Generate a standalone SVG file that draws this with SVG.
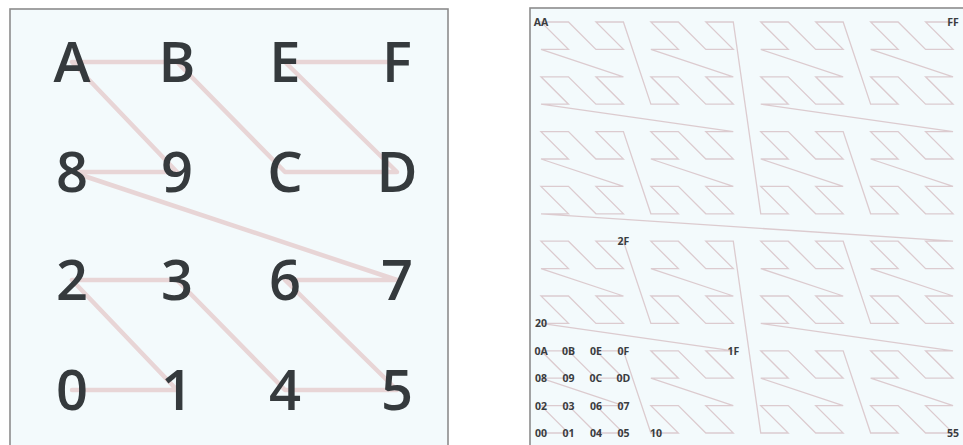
<svg xmlns="http://www.w3.org/2000/svg" xmlns:xlink="http://www.w3.org/1999/xlink" width="963" height="445" viewBox="0 0 963 445">
<style>
.panel{fill:#f3fafc;stroke:#8c8c8c;stroke-width:1.6}
.big{font-family:"Open Sans","Liberation Sans",sans-serif;font-size:56px;font-weight:600;fill:#353a3d;text-anchor:middle}
.sm{font-family:"Open Sans","Liberation Sans",sans-serif;font-size:10.5px;font-weight:700;fill:#3a3d40;text-anchor:middle}
.bigline{fill:none;stroke:#e8d5d6;stroke-width:4.5;stroke-linejoin:round;stroke-linecap:round}
.smline{fill:none;stroke:#dccbcf;stroke-width:1.3;stroke-linejoin:miter;vector-effect:non-scaling-stroke}
</style>
<rect width="963" height="445" fill="#ffffff"/>
<rect id="panel-left" class="panel" x="10" y="9" width="438" height="440"/>
<rect id="panel-right" class="panel" x="530" y="8" width="440" height="441"/>

<g id="connectors">
<polyline class="bigline" points="72,390 177,390 72,280 177,280 285,390 397,390 285,280 397,280 72,172 177,172 72,62 177,62 285,172 397,172 285,62 397,62"/>
<g transform="translate(541,433) scale(27.47,-27.4)">
<polyline class="smline" points="0,0 1,0 0,1 1,1 2,0 3,0 2,1 3,1 0,2 1,2 0,3 1,3 2,2 3,2 2,3 3,3 4,0 5,0 4,1 5,1 6,0 7,0 6,1 7,1 4,2 5,2 4,3 5,3 6,2 7,2 6,3 7,3 0,4 1,4 0,5 1,5 2,4 3,4 2,5 3,5 0,6 1,6 0,7 1,7 2,6 3,6 2,7 3,7 4,4 5,4 4,5 5,5 6,4 7,4 6,5 7,5 4,6 5,6 4,7 5,7 6,6 7,6 6,7 7,7 8,0 9,0 8,1 9,1 10,0 11,0 10,1 11,1 8,2 9,2 8,3 9,3 10,2 11,2 10,3 11,3 12,0 13,0 12,1 13,1 14,0 15,0 14,1 15,1 12,2 13,2 12,3 13,3 14,2 15,2 14,3 15,3 8,4 9,4 8,5 9,5 10,4 11,4 10,5 11,5 8,6 9,6 8,7 9,7 10,6 11,6 10,7 11,7 12,4 13,4 12,5 13,5 14,4 15,4 14,5 15,5 12,6 13,6 12,7 13,7 14,6 15,6 14,7 15,7 0,8 1,8 0,9 1,9 2,8 3,8 2,9 3,9 0,10 1,10 0,11 1,11 2,10 3,10 2,11 3,11 4,8 5,8 4,9 5,9 6,8 7,8 6,9 7,9 4,10 5,10 4,11 5,11 6,10 7,10 6,11 7,11 0,12 1,12 0,13 1,13 2,12 3,12 2,13 3,13 0,14 1,14 0,15 1,15 2,14 3,14 2,15 3,15 4,12 5,12 4,13 5,13 6,12 7,12 6,13 7,13 4,14 5,14 4,15 5,15 6,14 7,14 6,15 7,15 8,8 9,8 8,9 9,9 10,8 11,8 10,9 11,9 8,10 9,10 8,11 9,11 10,10 11,10 10,11 11,11 12,8 13,8 12,9 13,9 14,8 15,8 14,9 15,9 12,10 13,10 12,11 13,11 14,10 15,10 14,11 15,11 8,12 9,12 8,13 9,13 10,12 11,12 10,13 11,13 8,14 9,14 8,15 9,15 10,14 11,14 10,15 11,15 12,12 13,12 12,13 13,13 14,12 15,12 14,13 15,13 12,14 13,14 12,15 13,15 14,14 15,14 14,15 15,15"/>
</g>
</g>

<g id="nodes-left">
<g id="n-A"><text class="big" x="72" y="82">A</text></g>
<g id="n-B"><text class="big" x="177" y="82">B</text></g>
<g id="n-E"><text class="big" x="285" y="82">E</text></g>
<g id="n-F"><text class="big" x="397" y="82">F</text></g>
<g id="n-8"><text class="big" x="72" y="192">8</text></g>
<g id="n-9"><text class="big" x="177" y="192">9</text></g>
<g id="n-C"><text class="big" x="285" y="192">C</text></g>
<g id="n-D"><text class="big" x="397" y="192">D</text></g>
<g id="n-2"><text class="big" x="72" y="300">2</text></g>
<g id="n-3"><text class="big" x="177" y="300">3</text></g>
<g id="n-6"><text class="big" x="285" y="300">6</text></g>
<g id="n-7"><text class="big" x="397" y="300">7</text></g>
<g id="n-0"><text class="big" x="72" y="410">0</text></g>
<g id="n-1"><text class="big" x="177" y="410">1</text></g>
<g id="n-4"><text class="big" x="285" y="410">4</text></g>
<g id="n-5"><text class="big" x="397" y="410">5</text></g>
</g>

<g id="nodes-right">
<g id="r-AA"><text class="sm" x="541" y="26">AA</text></g>
<g id="r-FF"><text class="sm" x="953" y="26">FF</text></g>
<g id="r-2F"><text class="sm" x="623.4" y="245">2F</text></g>
<g id="r-20"><text class="sm" x="541" y="327">20</text></g>
<g id="r-1F"><text class="sm" x="733.3" y="355">1F</text></g>
<g id="r-0A"><text class="sm" x="541" y="355">0A</text></g>
<g id="r-0B"><text class="sm" x="568.5" y="355">0B</text></g>
<g id="r-0E"><text class="sm" x="595.9" y="355">0E</text></g>
<g id="r-0F"><text class="sm" x="623.4" y="355">0F</text></g>
<g id="r-08"><text class="sm" x="541" y="382">08</text></g>
<g id="r-09"><text class="sm" x="568.5" y="382">09</text></g>
<g id="r-0C"><text class="sm" x="595.9" y="382">0C</text></g>
<g id="r-0D"><text class="sm" x="623.4" y="382">0D</text></g>
<g id="r-02"><text class="sm" x="541" y="409.6">02</text></g>
<g id="r-03"><text class="sm" x="568.5" y="409.6">03</text></g>
<g id="r-06"><text class="sm" x="595.9" y="409.6">06</text></g>
<g id="r-07"><text class="sm" x="623.4" y="409.6">07</text></g>
<g id="r-00"><text class="sm" x="541" y="437">00</text></g>
<g id="r-01"><text class="sm" x="568.5" y="437">01</text></g>
<g id="r-04"><text class="sm" x="595.9" y="437">04</text></g>
<g id="r-05"><text class="sm" x="623.4" y="437">05</text></g>
<g id="r-10"><text class="sm" x="656" y="437">10</text></g>
<g id="r-55"><text class="sm" x="953" y="437">55</text></g>
</g>
</svg>
